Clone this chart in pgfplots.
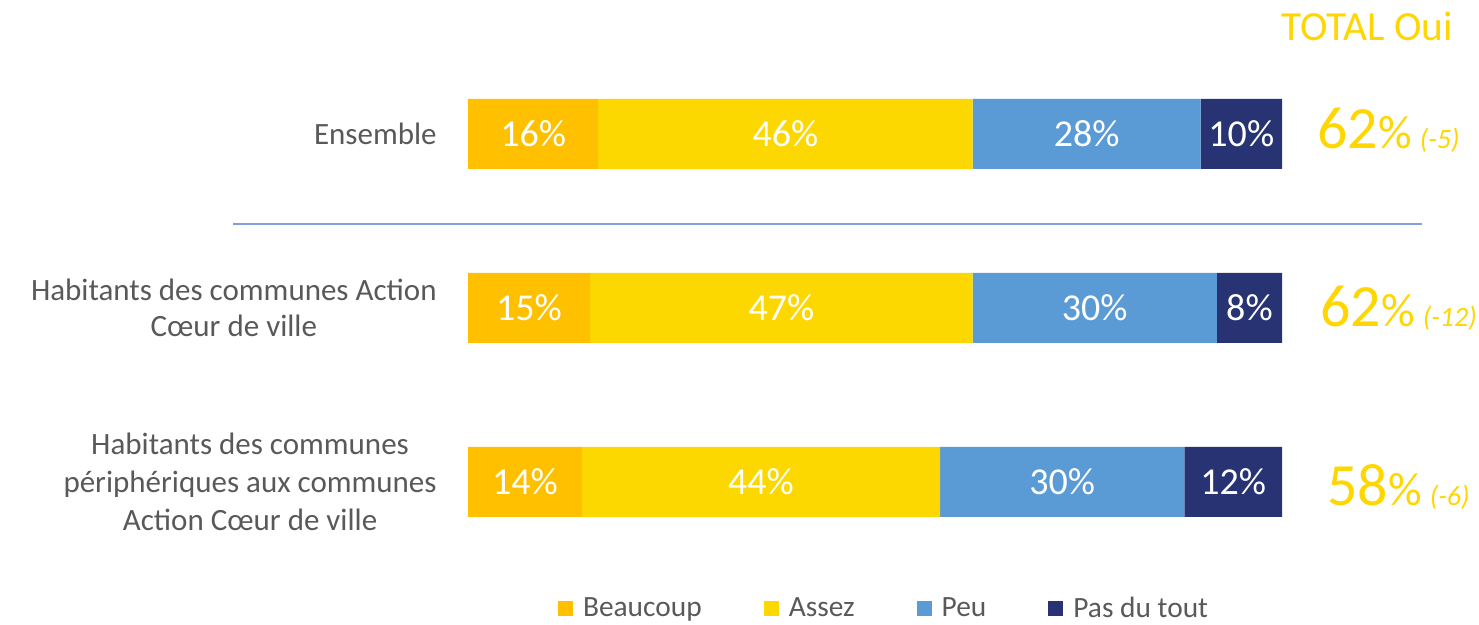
\documentclass[border=0pt]{standalone}
\usepackage{fontspec}
\setmainfont{Carlito}
\usepackage{pgfplots}
\pgfplotsset{compat=1.18}
\definecolor{beaucoup}{HTML}{FFC000}
\definecolor{assez}{HTML}{FCD800}
\definecolor{peu}{HTML}{5B9BD5}
\definecolor{pasdutout}{HTML}{283373}
\definecolor{gold}{HTML}{FFD600}
\definecolor{labelgray}{HTML}{595959}
\definecolor{sepline}{HTML}{7FA0DA}
\begin{document}
\begin{tikzpicture}
\useasboundingbox (0,0) rectangle (739.5pt,312.5pt);
\begin{axis}[
    at={(0,0)}, anchor=south west,
    scale only axis,
    width=739.5pt, height=312.5pt,
    xbar stacked,
    bar width=35pt,
    xmin=-57.494, xmax=124.2015,
    ymin=-0.77011, ymax=2.82184,
    y dir=reverse,
    hide axis,
    clip=false,
    point meta=explicit symbolic,
    nodes near coords={\pgfplotspointmeta\%},
    every node near coord/.append style={anchor=center, text=white,
        font=\fontsize{19}{22}\selectfont},
    legend columns=4,
    legend style={draw=none, fill=none, at={(0.5984,0.0256)}, anchor=center,
        font=\fontsize{14.7}{17}\selectfont, text=labelgray,
        /tikz/every odd column/.append style={column sep=3pt},
        /tikz/every even column/.append style={column sep=29pt}},
    legend image code/.code={\fill[#1] (0pt,-3.75pt) rectangle (7.5pt,3.75pt);},
]
\addplot[fill=beaucoup, draw=none] coordinates {(16,0) [16] (15,1) [15] (14,2) [14]};
\addplot[fill=assez, draw=none] coordinates {(46,0) [46] (47,1) [47] (44,2) [44]};
\addplot[fill=peu, draw=none] coordinates {(28,0) [28] (30,1) [30] (30,2) [30]};
\addplot[fill=pasdutout, draw=none] coordinates {(10,0) [10] (8,1) [8] (12,2) [12]};
\legend{Beaucoup, Assez, Peu, Pas du tout}

% category labels
\node[anchor=east, inner sep=0, align=center, text=labelgray, font=\fontsize{15.5}{18}\selectfont]
    at (axis cs:-3.808,0) {Ensemble};
\node[anchor=east, inner sep=0, align=center, text=labelgray, font=\fontsize{15.5}{18}\selectfont]
    at (axis cs:-3.808,1) {Habitants des communes Action\\Cœur de ville};
\node[anchor=east, inner sep=0, align=center, text=labelgray, font=\fontsize{15.5}{19}\selectfont]
    at (axis cs:-3.808,2) {Habitants des communes\\périphériques aux communes\\Action Cœur de ville};

% separator
\draw[sepline, line width=1pt] (axis cs:-28.87,0.5172) -- (axis cs:117.2,0.5172);

% totals
\node[anchor=base west, inner sep=0, text=gold, font=\fontsize{20.7}{21}\selectfont]
    at (axis cs:99.88,-0.5402) {TOTAL Oui};
\node[anchor=base west, inner sep=0, text=gold]
    at (axis cs:104.30,0.0805) {\fontsize{30}{30}\selectfont 62\fontsize{23.5}{24}\selectfont\%\hspace{4pt}\fontsize{14}{15}\selectfont\itshape (-5)};
\node[anchor=base west, inner sep=0, text=gold]
    at (axis cs:104.67,1.1092) {\fontsize{30}{30}\selectfont 62\fontsize{23.5}{24}\selectfont\%\hspace{4pt}\fontsize{14}{15}\selectfont\itshape (-12)};
\node[anchor=base west, inner sep=0, text=gold]
    at (axis cs:105.53,2.1322) {\fontsize{30}{30}\selectfont 58\fontsize{23.5}{24}\selectfont\%\hspace{4pt}\fontsize{14}{15}\selectfont\itshape (-6)};
\end{axis}
\end{tikzpicture}
\end{document}
